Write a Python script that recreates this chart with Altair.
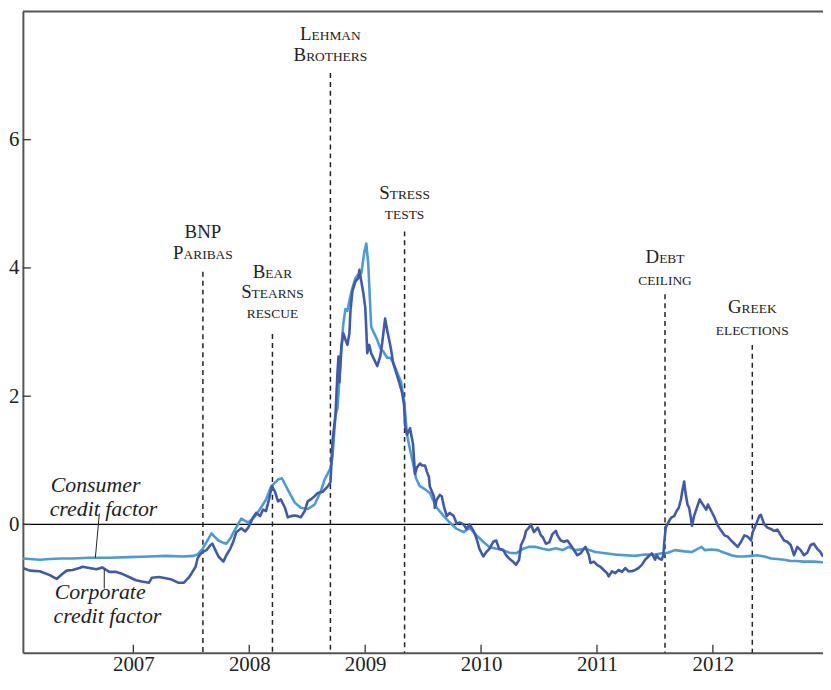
import altair as alt
import pandas as pd

# ---------------- data ----------------
consumer_years = [2006.047, 2006.107, 2006.193, 2006.279, 2006.381, 2006.475, 2006.621, 2006.792, 2006.963, 2007.134,
                  2007.280, 2007.434, 2007.520, 2007.554, 2007.597, 2007.648, 2007.674, 2007.700, 2007.734, 2007.770,
                  2007.802, 2007.836, 2007.871, 2007.931, 2007.991, 2008.042, 2008.093, 2008.145, 2008.188, 2008.248,
                  2008.282, 2008.333, 2008.393, 2008.444, 2008.504, 2008.564, 2008.616, 2008.650, 2008.676, 2008.701,
                  2008.718, 2008.744, 2008.761, 2008.778, 2008.795, 2008.812, 2008.830, 2008.847, 2008.864, 2008.890,
                  2008.916, 2008.941, 2008.967, 2008.993, 2009.010, 2009.027, 2009.040, 2009.052, 2009.078, 2009.104,
                  2009.130, 2009.155, 2009.190, 2009.216, 2009.241, 2009.276, 2009.310, 2009.336, 2009.361, 2009.387,
                  2009.413, 2009.439, 2009.470, 2009.507, 2009.558, 2009.593, 2009.618, 2009.678, 2009.730, 2009.790,
                  2009.850, 2009.901, 2009.961, 2010.019, 2010.071, 2010.131, 2010.191, 2010.242, 2010.302, 2010.362,
                  2010.413, 2010.473, 2010.533, 2010.584, 2010.644, 2010.704, 2010.756, 2010.816, 2010.901, 2010.987,
                  2011.073, 2011.158, 2011.244, 2011.330, 2011.415, 2011.501, 2011.561, 2011.612, 2011.672, 2011.758,
                  2011.818, 2011.869, 2011.903, 2011.929, 2011.989, 2012.041, 2012.100, 2012.160, 2012.211, 2012.272,
                  2012.331, 2012.383, 2012.443, 2012.503, 2012.554, 2012.614, 2012.674, 2012.725, 2012.785, 2012.871,
                  2012.950]
consumer_values = [-0.53, -0.54, -0.55, -0.54, -0.53, -0.53, -0.52, -0.52, -0.51, -0.50,
                   -0.49, -0.50, -0.49, -0.47, -0.38, -0.22, -0.14, -0.19, -0.25, -0.28,
                   -0.30, -0.22, -0.10, 0.09, 0.03, 0.11, 0.24, 0.39, 0.59, 0.70,
                   0.72, 0.54, 0.34, 0.26, 0.24, 0.31, 0.51, 0.70, 0.79, 0.88,
                   1.05, 1.71, 1.81, 2.27, 2.77, 3.14, 3.36, 3.33, 3.49, 3.69,
                   3.84, 3.90, 3.92, 4.25, 4.38, 4.05, 3.54, 3.08, 2.98, 2.88,
                   2.75, 2.70, 2.60, 2.60, 2.53, 2.37, 2.22, 1.92, 1.40, 1.17,
                   0.95, 0.72, 0.60, 0.56, 0.49, 0.36, 0.26, 0.13, 0.03, -0.07,
                   -0.12, -0.05, -0.17, -0.27, -0.35, -0.38, -0.40, -0.44, -0.45, -0.38,
                   -0.35, -0.35, -0.38, -0.40, -0.37, -0.40, -0.35, -0.40, -0.38, -0.43,
                   -0.45, -0.47, -0.48, -0.49, -0.47, -0.47, -0.45, -0.44, -0.40, -0.42,
                   -0.43, -0.38, -0.35, -0.40, -0.39, -0.40, -0.44, -0.48, -0.50, -0.50,
                   -0.49, -0.48, -0.50, -0.53, -0.54, -0.55, -0.57, -0.57, -0.58, -0.58,
                   -0.59]

corporate_years = [2006.047, 2006.107, 2006.193, 2006.279, 2006.338, 2006.381, 2006.424, 2006.475, 2006.535, 2006.561,
                   2006.621, 2006.681, 2006.732, 2006.792, 2006.852, 2006.903, 2006.963, 2007.023, 2007.074, 2007.134,
                   2007.160, 2007.220, 2007.280, 2007.331, 2007.391, 2007.434, 2007.477, 2007.503, 2007.537, 2007.554,
                   2007.571, 2007.597, 2007.631, 2007.666, 2007.682, 2007.708, 2007.734, 2007.777, 2007.802, 2007.836,
                   2007.862, 2007.888, 2007.931, 2007.965, 2007.991, 2008.033, 2008.059, 2008.093, 2008.119, 2008.145,
                   2008.170, 2008.196, 2008.222, 2008.248, 2008.273, 2008.308, 2008.333, 2008.359, 2008.393, 2008.419,
                   2008.444, 2008.479, 2008.504, 2008.530, 2008.564, 2008.590, 2008.633, 2008.676, 2008.701, 2008.718,
                   2008.744, 2008.761, 2008.770, 2008.778, 2008.795, 2008.812, 2008.830, 2008.847, 2008.864, 2008.873,
                   2008.890, 2008.916, 2008.941, 2008.950, 2008.967, 2008.984, 2009.001, 2009.010, 2009.018, 2009.035,
                   2009.052, 2009.078, 2009.104, 2009.130, 2009.147, 2009.172, 2009.190, 2009.207, 2009.224, 2009.241,
                   2009.267, 2009.293, 2009.318, 2009.336, 2009.344, 2009.361, 2009.387, 2009.413, 2009.430, 2009.447,
                   2009.473, 2009.490, 2009.516, 2009.533, 2009.550, 2009.558, 2009.593, 2009.601, 2009.618, 2009.644,
                   2009.661, 2009.678, 2009.704, 2009.730, 2009.764, 2009.790, 2009.815, 2009.850, 2009.875, 2009.901,
                   2009.935, 2009.961, 2009.986, 2010.019, 2010.045, 2010.071, 2010.105, 2010.131, 2010.156, 2010.191,
                   2010.216, 2010.242, 2010.276, 2010.302, 2010.328, 2010.345, 2010.371, 2010.388, 2010.413, 2010.430,
                   2010.456, 2010.490, 2010.516, 2010.533, 2010.559, 2010.588, 2010.616, 2010.645, 2010.659, 2010.687,
                   2010.716, 2010.745, 2010.773, 2010.801, 2010.830, 2010.859, 2010.887, 2010.901, 2010.930, 2010.944,
                   2010.973, 2011.001, 2011.030, 2011.058, 2011.087, 2011.101, 2011.130, 2011.158, 2011.187, 2011.216,
                   2011.244, 2011.272, 2011.301, 2011.330, 2011.358, 2011.387, 2011.415, 2011.444, 2011.473, 2011.487,
                   2011.501, 2011.515, 2011.535, 2011.558, 2011.572, 2011.581, 2011.593, 2011.607, 2011.630, 2011.644,
                   2011.666, 2011.687, 2011.706, 2011.724, 2011.738, 2011.752, 2011.764, 2011.781, 2011.795, 2011.809,
                   2011.820, 2011.837, 2011.860, 2011.886, 2011.914, 2011.943, 2011.957, 2011.986, 2012.014, 2012.043,
                   2012.072, 2012.100, 2012.128, 2012.157, 2012.186, 2012.214, 2012.243, 2012.272, 2012.300, 2012.329,
                   2012.343, 2012.372, 2012.400, 2012.414, 2012.443, 2012.471, 2012.500, 2012.528, 2012.557, 2012.586,
                   2012.614, 2012.642, 2012.671, 2012.700, 2012.728, 2012.757, 2012.786, 2012.814, 2012.843, 2012.871,
                   2012.900, 2012.928, 2012.950]
corporate_values = [-0.68, -0.72, -0.73, -0.79, -0.85, -0.78, -0.72, -0.71, -0.68, -0.66,
                    -0.68, -0.70, -0.67, -0.74, -0.74, -0.77, -0.82, -0.87, -0.89, -0.91,
                    -0.83, -0.82, -0.84, -0.86, -0.91, -0.91, -0.83, -0.76, -0.66, -0.53,
                    -0.48, -0.43, -0.40, -0.32, -0.30, -0.40, -0.50, -0.58, -0.48, -0.38,
                    -0.27, -0.12, -0.06, -0.11, -0.05, 0.11, 0.18, 0.13, 0.23, 0.21,
                    0.39, 0.60, 0.51, 0.36, 0.39, 0.26, 0.11, 0.13, 0.14, 0.13,
                    0.11, 0.21, 0.36, 0.39, 0.44, 0.49, 0.51, 0.59, 0.66, 1.30,
                    1.71, 2.37, 2.62, 2.22, 2.77, 2.98, 2.88, 2.80, 2.98, 3.33,
                    3.64, 3.79, 3.84, 3.97, 3.79, 3.61, 3.38, 3.03, 2.67, 2.80,
                    2.67, 2.57, 2.47, 2.62, 2.83, 3.21, 3.03, 2.88, 2.72, 2.52,
                    2.37, 2.22, 2.06, 1.86, 1.55, 1.40, 1.50, 1.25, 0.79, 0.89,
                    0.95, 0.92, 0.92, 0.82, 0.74, 0.59, 0.44, 0.26, 0.39, 0.46,
                    0.44, 0.29, 0.13, 0.18, 0.13, 0.01, 0.03, 0.00, -0.07, 0.00,
                    -0.10, -0.22, -0.38, -0.50, -0.43, -0.38, -0.27, -0.25, -0.38, -0.40,
                    -0.48, -0.53, -0.58, -0.63, -0.55, -0.32, -0.22, -0.10, -0.05, 0.00,
                    -0.12, -0.05, -0.17, -0.20, -0.30, -0.28, -0.15, -0.10, -0.17, -0.25,
                    -0.27, -0.25, -0.32, -0.40, -0.48, -0.45, -0.38, -0.35, -0.48, -0.60,
                    -0.58, -0.63, -0.66, -0.71, -0.76, -0.81, -0.73, -0.76, -0.71, -0.74,
                    -0.68, -0.73, -0.73, -0.71, -0.68, -0.63, -0.55, -0.50, -0.45, -0.50,
                    -0.55, -0.48, -0.53, -0.55, -0.48, -0.27, -0.05, 0.00, 0.08, 0.11,
                    0.13, 0.21, 0.26, 0.39, 0.54, 0.67, 0.49, 0.31, 0.26, 0.11,
                    -0.02, 0.13, 0.25, 0.39, 0.31, 0.23, 0.31, 0.21, 0.11, -0.02,
                    -0.10, -0.17, -0.19, -0.25, -0.30, -0.35, -0.27, -0.17, -0.19, -0.25,
                    -0.12, 0.00, 0.13, 0.15, 0.00, -0.05, -0.07, -0.10, -0.08, -0.17,
                    -0.25, -0.27, -0.32, -0.48, -0.35, -0.40, -0.48, -0.44, -0.32, -0.30,
                    -0.38, -0.43, -0.50]

# events: date, label lines (rendered as small caps), baseline of each line, top of dashed line
event_dates = [2007.60, 2008.20, 2008.70, 2009.34, 2011.587, 2012.34]
event_lines = [["BNP", "Paribas"], ["Bear", "Stearns", "rescue"], ["Lehman", "Brothers"],
               ["Stress", "tests"], ["Debt", "ceiling"], ["Greek", "elections"]]
event_baselines = [[4.46, 4.14], [3.84, 3.53, 3.22], [7.55, 7.22], [5.08, 4.76], [4.07, 3.74], [3.29, 2.96]]
event_tops = [3.94, 2.97, 7.04, 4.57, 3.59, 2.80]

x_ticks = [2007, 2008, 2009, 2010, 2011, 2012]
y_ticks = [0, 2, 4, 6]

factor_labels = ["Consumer", "credit factor", "Corporate", "credit factor"]
factor_label_x = [2006.287, 2006.278, 2006.321, 2006.312]
factor_label_y = [0.50, 0.13, -1.17, -1.54]
leader_x = [2006.707, 2006.749]
leader_x2 = [2006.672, 2006.749]
leader_y = [0.17, -0.70]
leader_y2 = [-0.52, -1.00]

# ---------------- layout / style ----------------
W, H = 806, 646
XMIN, XMAX = 2006.047, 2012.95
YMIN, YMAX = -2, 8
FONT = "Liberation Serif"
TEXT = "#222222"
FRAME = "#555555"
C_CONS = "#4A9BD7"
C_CORP = "#3E5AB0"

xs = alt.Scale(domain=[XMIN, XMAX], nice=False, zero=False)
ys = alt.Scale(domain=[YMIN, YMAX], nice=False, zero=False)
px_per_year = W / (XMAX - XMIN)

XA = alt.Axis(values=x_ticks, format="d", labelPadding=18, labelBaseline="alphabetic")
YA = alt.Axis(values=y_ticks, labelPadding=4)

# small-caps helper (Times metrics for capitals)
CAPW = {'A': 722, 'B': 667, 'C': 667, 'D': 722, 'E': 611, 'F': 556, 'G': 722, 'H': 722, 'I': 333,
        'J': 389, 'K': 722, 'L': 611, 'M': 889, 'N': 722, 'O': 722, 'P': 556, 'Q': 722, 'R': 667,
        'S': 556, 'T': 611, 'U': 722, 'V': 722, 'W': 944, 'X': 722, 'Y': 722, 'Z': 611}
BIG, SMALL = 19, 13.5


def smallcaps(line):
    groups = []
    for ch in line:
        size = BIG if ch.isupper() else SMALL
        if groups and groups[-1][1] == size:
            groups[-1][0] += ch.upper()
        else:
            groups.append([ch.upper(), size])
    widths = [sum(CAPW[c] for c in t) / 1000 * s for t, s in groups]
    cum = -sum(widths) / 2
    out = []
    for (t, s), w in zip(groups, widths):
        out.append((t, s, cum))
        cum += w
    return out


rows = []
for d, lines, bases in zip(event_dates, event_lines, event_baselines):
    for line, b in zip(lines, bases):
        for t, s, off in smallcaps(line):
            rows.append({"x": d + off / px_per_year, "y": b, "text": t, "size": s})
ev_text = pd.DataFrame(rows)

cons_df = pd.DataFrame({"year": consumer_years, "value": consumer_values})
corp_df = pd.DataFrame({"year": corporate_years, "value": corporate_values})
ev_df = pd.DataFrame({"date": event_dates, "top": event_tops, "bottom": [YMIN] * len(event_dates)})
lab_df = pd.DataFrame({"x": factor_label_x, "y": factor_label_y, "text": factor_labels})
lead_df = pd.DataFrame({"x": leader_x, "x2": leader_x2, "y": leader_y, "y2": leader_y2})
xt_df = pd.DataFrame({"year": x_ticks})
yt_df = pd.DataFrame({"v": y_ticks})


def X(field):
    return alt.X(field, scale=xs, axis=XA)


def Y(field):
    return alt.Y(field, scale=ys, axis=YA)


zero = alt.Chart(pd.DataFrame({"v": [0]})).mark_rule(color="black", strokeWidth=1.3).encode(
    y=Y("v:Q"))

events = alt.Chart(ev_df).mark_rule(color="#222222", strokeWidth=1.5, strokeDash=[5, 4]).encode(
    x=X("date:Q"), y=Y("top:Q"), y2="bottom:Q")

cons = alt.Chart(cons_df).mark_line(color=C_CONS, strokeWidth=2.6, strokeJoin="round", clip=True).encode(
    x=X("year:Q"), y=Y("value:Q"))

corp = alt.Chart(corp_df).mark_line(color=C_CORP, strokeWidth=2.6, strokeJoin="round", clip=True).encode(
    x=X("year:Q"), y=Y("value:Q"))

ev_labels = alt.Chart(ev_text).mark_text(align="left", baseline="alphabetic", font=FONT, color=TEXT).encode(
    x=X("x:Q"), y=Y("y:Q"), text="text:N",
    size=alt.Size("size:Q", scale=None, legend=None))

f_labels = alt.Chart(lab_df).mark_text(align="left", baseline="alphabetic", font=FONT, fontSize=22,
                                       fontStyle="italic", color=TEXT).encode(
    x=X("x:Q"), y=Y("y:Q"), text="text:N")

leaders = alt.Chart(lead_df).mark_rule(color="#222222", strokeWidth=1).encode(
    x=X("x:Q"), x2="x2:Q", y=Y("y:Q"), y2="y2:Q")

xt = alt.Chart(xt_df).mark_rule(color="#333333", strokeWidth=1.3).encode(
    x=X("year:Q"), y=alt.value(H - 8), y2=alt.value(H))

yt = alt.Chart(yt_df).mark_rule(color="#333333", strokeWidth=1.3).encode(
    y=Y("v:Q"), x=alt.value(0), x2=alt.value(8))

top = alt.Chart(pd.DataFrame({"a": [0]})).mark_rule(color=FRAME, strokeWidth=2).encode(
    x=alt.value(0), x2=alt.value(W), y=alt.value(0))

chart = alt.layer(zero, events, cons, corp, ev_labels, f_labels, leaders, xt, yt, top).properties(
    width=W, height=H,
    padding={"left": 15, "top": 1, "right": 0, "bottom": 20},
    autosize=alt.AutoSizeParams(type="none"),
).configure_view(stroke=None).configure_axis(
    title=None, tickSize=0, grid=False, domainColor=FRAME, domainWidth=2,
    labelFont=FONT, labelFontSize=21, labelColor=TEXT, labelOverlap=False,
)

chart.save("out.html", embed_options={"renderer": "svg", "actions": False})
